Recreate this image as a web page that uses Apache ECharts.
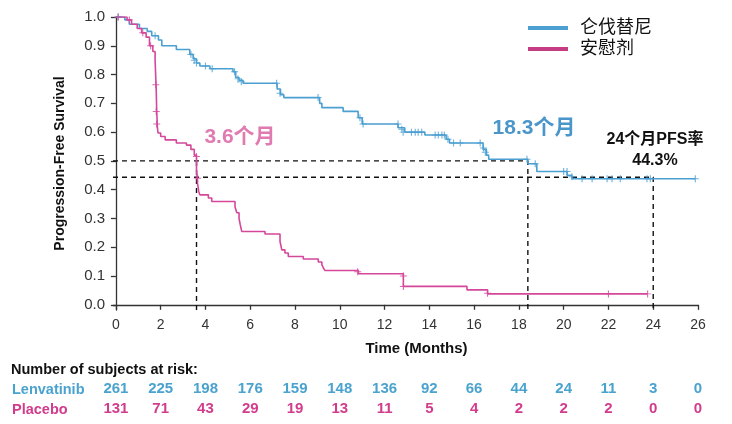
<!DOCTYPE html>
<html><head><meta charset="utf-8">
<script src="https://cdn.jsdelivr.net/npm/echarts@6/dist/echarts.min.js"></script>
<style>html,body{margin:0;padding:0;background:#fff}#c{width:732px;height:424px}</style>
</head><body><div id="c"></div>
<script>
// ---- data ----
const xTicks = [0,2,4,6,8,10,12,14,16,18,20,22,24,26];
const yTicks = [0,0.1,0.2,0.3,0.4,0.5,0.6,0.7,0.8,0.9,1.0];
const seriesNames = ['仑伐替尼','安慰剂'];
const lenSteps = [[0,1.0],[0.4,0.99],[0.6,0.975],[1.05,0.96],[1.4,0.95],[1.6,0.935],[1.9,0.92],[2.05,0.90],[2.7,0.887],[3.3,0.87],[3.45,0.855],[3.6,0.84],[3.75,0.83],[4.2,0.82],[5.23,0.81],[5.35,0.79],[5.5,0.78],[5.68,0.77],[7.2,0.75],[7.35,0.73],[7.5,0.72],[9.1,0.70],[9.2,0.685],[10.15,0.672],[10.82,0.65],[11.0,0.628],[12.6,0.615],[12.9,0.60],[13.8,0.59],[14.75,0.575],[14.9,0.562],[16.4,0.54],[16.55,0.52],[16.65,0.506],[18.4,0.49],[18.8,0.463],[20.15,0.45],[20.37,0.438],[25.88,0.438]];
const plaSteps = [[0,1.0],[0.5,0.99],[0.7,0.975],[0.95,0.96],[1.15,0.945],[1.35,0.93],[1.5,0.90],[1.65,0.88],[1.75,0.85],[1.8,0.75],[1.82,0.68],[1.85,0.62],[1.88,0.597],[2.0,0.585],[2.2,0.573],[2.7,0.562],[3.15,0.555],[3.35,0.54],[3.5,0.52],[3.6,0.47],[3.65,0.42],[3.7,0.394],[3.75,0.382],[4.13,0.371],[4.28,0.359],[5.32,0.34],[5.4,0.32],[5.5,0.30],[5.55,0.28],[5.62,0.255],[6.66,0.246],[7.33,0.22],[7.41,0.191],[7.55,0.18],[7.7,0.168],[8.37,0.159],[9.04,0.149],[9.2,0.139],[9.27,0.128],[9.34,0.119],[10.83,0.108],[12.84,0.064],[15.68,0.052],[16.6,0.038],[23.75,0.038]];
const lenCensor = [[0.1,1.0],[1.75,0.935],[3.35,0.87],[3.5,0.85],[3.6,0.84],[4.0,0.83],[4.3,0.82],[5.3,0.81],[5.45,0.785],[5.6,0.775],[7.18,0.77],[7.33,0.735],[9.03,0.72],[10.9,0.65],[11.04,0.628],[12.6,0.628],[12.77,0.61],[12.83,0.60],[13.2,0.60],[13.37,0.60],[13.5,0.60],[13.66,0.60],[14.26,0.59],[14.4,0.59],[14.56,0.59],[14.67,0.59],[14.83,0.575],[15.08,0.562],[15.38,0.562],[16.27,0.562],[16.42,0.545],[16.5,0.53],[18.36,0.506],[18.73,0.49],[20.0,0.463],[20.15,0.463],[20.37,0.445],[20.82,0.438],[21.27,0.438],[21.94,0.438],[22.16,0.438],[22.53,0.438],[23.72,0.438],[23.87,0.438],[25.88,0.438]];
const plaCensor = [[0.1,1.0],[0.6,0.99],[1.2,0.945],[1.55,0.90],[1.78,0.765],[1.8,0.672],[1.82,0.628],[3.6,0.515],[3.65,0.44],[10.8,0.115],[12.84,0.10],[12.84,0.064],[16.6,0.04],[22.0,0.038],[23.75,0.038]];
const riskLen = [261,225,198,176,159,148,136,92,66,44,24,11,3,0];
const riskPla = [131,71,43,29,19,13,11,5,4,2,2,2,0,0];
const medianLen = 18.4, medianPla = 3.6, rateTime = 24, rate24 = 0.443;

// ---- styles ----
const X_MIN = -0.13, X_MAX = 26, Y_MIN = -0.018, Y_MAX = 1.0;
const BLUE = '#4b9fd1', PINK = '#d5479b';
const FF = "'Liberation Sans','Noto Sans CJK SC',Arial,sans-serif";
const plusSym = 'path://M4.2,0H5.8V10H4.2Z M0,4.3H10V5.7H0Z';

const chart = echarts.init(document.getElementById('c'), null, {renderer:'canvas'});

function riskAxis(arr, color, offset){
  return {
    type:'value', gridIndex:0, position:'bottom', offset:offset, min:X_MIN, max:X_MAX,
    axisLine:{show:false}, axisTick:{show:false}, splitLine:{show:false},
    axisLabel:{customValues:xTicks, margin:0, fontFamily:FF, fontSize:15, fontWeight:'bold', color:color,
      formatter:function(v){ const i = xTicks.indexOf(Math.round(v)); return i>=0 ? String(arr[i]) : ''; }}
  };
}

const dashStyle = {color:'#111', width:1.4, type:[5,4]};
function refLine(data){
  return {type:'line', data:data, symbol:'none', silent:true, lineStyle:dashStyle, z:1, animation:false};
}

chart.setOption({
  animation:false,
  textStyle:{fontFamily:FF},
  grid:{left:113, right:34, top:17, bottom:114},
  legend:{
    data:[{name:seriesNames[0], itemStyle:{color:BLUE}},{name:seriesNames[1], itemStyle:{color:'#c43c84'}}],
    orient:'vertical', left:523, top:14, icon:'rect', itemWidth:40, itemHeight:4, itemGap:3,
    textStyle:{fontFamily:FF, fontSize:18, color:'#111', lineHeight:18, padding:[0,0,0,7]}
  },
  xAxis:[
    {type:'value', min:X_MIN, max:X_MAX, name:'Time (Months)', nameLocation:'middle', nameGap:31,
     nameTextStyle:{fontFamily:FF, fontSize:15, fontWeight:'bold', color:'#111', padding:[0,0,0,22]},
     axisLine:{lineStyle:{color:'#333', width:1.3}},
     axisTick:{customValues:xTicks, length:5, lineStyle:{color:'#333', width:1.3}},
     axisLabel:{customValues:xTicks, fontFamily:FF, fontSize:14, color:'#333', margin:8},
     splitLine:{show:false}},
    riskAxis(riskLen, '#4aa3cf', 71),
    riskAxis(riskPla, '#d23c8c', 91)
  ],
  yAxis:{type:'value', min:Y_MIN, max:Y_MAX, name:'Progression-Free Survival', nameLocation:'middle', nameGap:46,
     nameTextStyle:{fontFamily:FF, fontSize:14, fontWeight:'bold', color:'#111'},
     axisLine:{show:true, lineStyle:{color:'#333', width:1.3}},
     axisTick:{show:true, customValues:yTicks, length:5, lineStyle:{color:'#333', width:1.3}},
     axisLabel:{customValues:yTicks, fontFamily:FF, fontSize:15, color:'#333', margin:8,
       formatter:function(v){ return v.toFixed(1); }},
     splitLine:{show:false}},
  series:[
    refLine([[X_MIN,0.5],[medianLen,0.5],[medianLen,Y_MIN]]),
    refLine([[X_MIN,rate24],[rateTime,rate24],[rateTime,Y_MIN]]),
    refLine([[medianPla,0.5],[medianPla,Y_MIN]]),
    {name:seriesNames[0], type:'line', step:'end', data:lenSteps, symbol:'none', lineStyle:{color:BLUE, width:1.6}, itemStyle:{color:BLUE}, z:3},
    {name:seriesNames[1], type:'line', step:'end', data:plaSteps, symbol:'none', lineStyle:{color:PINK, width:1.6}, itemStyle:{color:PINK}, z:3},
    {type:'scatter', data:lenCensor, symbol:plusSym, symbolSize:7, itemStyle:{color:BLUE}, z:4, silent:true},
    {type:'scatter', data:plaCensor, symbol:plusSym, symbolSize:7, itemStyle:{color:PINK}, z:4, silent:true}
  ],
  graphic:[
    {type:'text', x:240, y:137, style:{text:'3.6个月', fill:'#e07bb2', font:"bold 21px "+FF, align:'center', verticalAlign:'middle', textAlign:'center', textVerticalAlign:'middle'}},
    {type:'text', x:534, y:128, style:{text:'18.3个月', fill:'#4a96cb', font:"bold 21px "+FF, align:'center', verticalAlign:'middle', textAlign:'center', textVerticalAlign:'middle'}},
    {type:'text', x:655, y:140, style:{text:'24个月PFS率', fill:'#111', font:"bold 16px "+FF, align:'center', verticalAlign:'middle', textAlign:'center', textVerticalAlign:'middle'}},
    {type:'text', x:655, y:161, style:{text:'44.3%', fill:'#111', font:"bold 16px "+FF, align:'center', verticalAlign:'middle', textAlign:'center', textVerticalAlign:'middle'}},
    {type:'text', x:11, y:370, style:{text:'Number of subjects at risk:', fill:'#111', font:"bold 14.5px "+FF, align:'left', verticalAlign:'middle', textAlign:'left', textVerticalAlign:'middle'}},
    {type:'text', x:12, y:390, style:{text:'Lenvatinib', fill:'#4aa3cf', font:"bold 14.5px "+FF, align:'left', verticalAlign:'middle', textAlign:'left', textVerticalAlign:'middle'}},
    {type:'text', x:12, y:410, style:{text:'Placebo', fill:'#d23c8c', font:"bold 14.5px "+FF, align:'left', verticalAlign:'middle', textAlign:'left', textVerticalAlign:'middle'}}
  ]
});
</script>
</body></html>
